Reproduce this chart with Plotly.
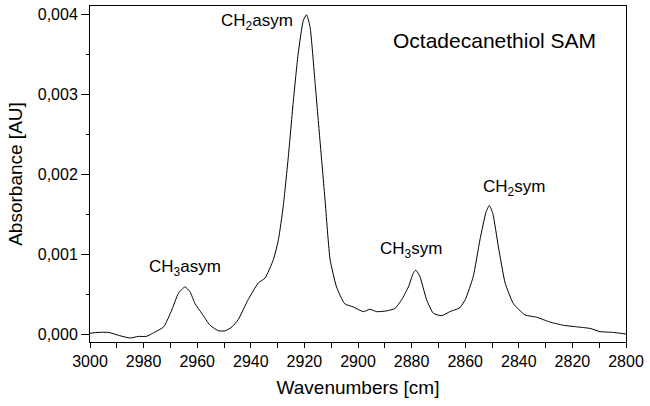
import plotly.graph_objects as go

wavenumber = [3000, 2997, 2993, 2989, 2985, 2982, 2979, 2976, 2972.5, 2969.5,
              2967, 2964.6, 2962.7, 2960.8, 2958.3, 2955.2, 2952, 2949.6, 2947, 2944.7,
              2941, 2937.2, 2934.7, 2931.6, 2929.7, 2927.9, 2926, 2924.1, 2922.3, 2920.4,
              2919.2, 2917.9, 2916, 2914.2, 2912.3, 2910.4, 2908, 2905, 2901.8, 2898,
              2895.5, 2893, 2889.3, 2886.2, 2883.7, 2881.2, 2879.4, 2878.4, 2876.9, 2874.4,
              2871.9, 2868.8, 2865.7, 2862, 2860, 2857, 2854.5, 2852.2, 2851, 2849.7,
              2847.6, 2845.1, 2842, 2837.7, 2833.3, 2828.4, 2823.4, 2818.4, 2813.4, 2809.7,
              2804.7, 2800]
absorbance = [0.00001, 0.00002, 0.00002, -0.00002, -0.00005, -0.00003, -0.00003, 0.00002, 0.00009, 0.0003,
              0.00051, 0.00059, 0.00053, 0.00038, 0.00026, 0.00011, 0.00004, 0.00004, 0.00009, 0.00018,
              0.00043, 0.00064, 0.0007, 0.00093, 0.00118, 0.0016, 0.00222, 0.00293, 0.00352, 0.00393,
              0.004, 0.00385, 0.00314, 0.00243, 0.00168, 0.00093, 0.00059, 0.00038, 0.00034, 0.00028,
              0.00031, 0.00028, 0.00029, 0.00032, 0.00043, 0.00059, 0.00076, 0.0008, 0.00072, 0.00043,
              0.00026, 0.00023, 0.00028, 0.00033, 0.00043, 0.00072, 0.00118, 0.00153, 0.00161, 0.00151,
              0.00109, 0.00064, 0.00038, 0.00024, 0.00021, 0.00015, 0.00011, 0.00009, 0.00007, 0.00003,
              0.00002, 0.0]

peak_labels = ["CH<sub>2</sub>asym", "CH<sub>3</sub>asym", "CH<sub>3</sub>sym", "CH<sub>2</sub>sym"]
label_x = [2937.8, 2964.6, 2880.2, 2841.8]
label_y = [0.00391, 0.00083, 0.00105, 0.00183]
title_text = "Octadecanethiol SAM"

FONT = "Liberation Sans, Arial, sans-serif"

fig = go.Figure()
fig.add_trace(go.Scatter(x=wavenumber, y=absorbance, mode="lines",
                         line=dict(color="black", width=1, shape="spline", smoothing=0.5),
                         showlegend=False, hoverinfo="skip"))

for t, lx, ly in zip(peak_labels, label_x, label_y):
    fig.add_annotation(x=lx, y=ly, text=t, showarrow=False,
                       font=dict(family=FONT, size=17, color="black"))
fig.add_annotation(x=2848.9, y=0.00368, text=title_text, showarrow=False,
                   font=dict(family=FONT, size=21, color="black"))

fig.update_layout(
    width=650, height=406,
    margin=dict(l=90, r=24, t=6, b=64),
    paper_bgcolor="white", plot_bgcolor="white",
    separators=",.",
    font=dict(family=FONT, color="black"),
    xaxis=dict(range=[3000, 2800], dtick=20, tick0=2800, showgrid=False, zeroline=False,
               showline=True, linecolor="black", linewidth=1, mirror=True,
               ticks="outside", ticklen=5, tickcolor="black", tickwidth=1,
               tickfont=dict(size=16, family=FONT),
               minor=dict(dtick=10, ticks="outside", ticklen=5, tickcolor="black", showgrid=False),
               title=dict(text="Wavenumbers [cm]", font=dict(size=19, family=FONT), standoff=11)),
    yaxis=dict(range=[-0.0001, 0.00411], dtick=0.001, tick0=0, tickformat=".3f",
               showgrid=False, zeroline=False,
               showline=True, linecolor="black", linewidth=1, mirror=True,
               ticks="outside", ticklen=8, tickcolor="black", tickwidth=1,
               tickfont=dict(size=16, family=FONT),
               minor=dict(dtick=0.0005, ticks="outside", ticklen=3, tickcolor="black", showgrid=False),
               title=dict(text="Absorbance [AU]", font=dict(size=19, family=FONT), standoff=10)),
)

fig.write_html("out.html")
